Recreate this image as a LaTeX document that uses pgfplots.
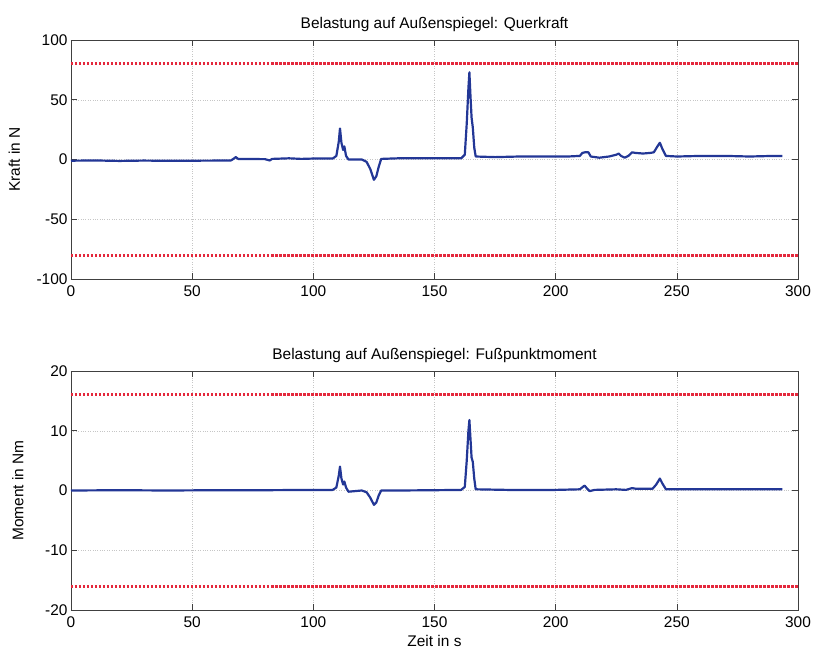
\documentclass[border=0pt]{standalone}
\usepackage{pgfplots}
\pgfplotsset{compat=1.18}
\usepackage{fontspec}
\setmainfont{Liberation Sans}

\definecolor{sigblue}{RGB}{35,55,150}
\definecolor{limred}{RGB}{228,40,60}

\pgfplotsset{
  matlab/.style={
    width=727bp, height=239bp, scale only axis,
    xmin=0, xmax=300,
    xtick={0,50,...,300},
    tick align=inside,
    major tick length=6bp,
    axis line style={black!75, line width=0.6pt},
    every tick/.style={black!75, line width=0.6pt},
    xmajorgrids, ymajorgrids,
    grid style={dotted, gray!45, line width=0.5pt},
    /pgf/number format/assume math mode=true,
    ticklabel style={font=\fontsize{15.5}{18}\selectfont},
    title style={font=\fontsize{15.5}{18}\selectfont, yshift=-1bp},
    xticklabel style={yshift=-3bp},
    scaled ticks=false,
  },
  sig/.style={sigblue, line width=2.2pt, line join=round},
  lim/.style={limred, line width=3pt, dash pattern=on 2.5bp off 1.5bp},
}

\begin{document}
\begin{tikzpicture}
\useasboundingbox (-71bp,40bp) rectangle (743bp,-613bp);

% Querkraft
\begin{axis}[matlab,
  at={(0,0)}, anchor=north west,
  ymin=-100, ymax=100, ytick={-100,-50,0,50,100},
  title={Belastung auf Außenspiegel: Querkraft},
  ylabel={Kraft in N},
  every axis y label/.style={at={(axis description cs:-0.078,0.5)}, rotate=90, anchor=center, font=\fontsize{15.5}{18}\selectfont},
]
\addplot[lim] coordinates {(0,80) (300,80)};
\addplot[lim] coordinates {(0,-80) (300,-80)};
\addplot[sig] coordinates {
(0,-1) (10,-0.8) (20,-1.2) (30,-0.9) (40,-1.1) (50,-1) (60,-0.9) (66,-0.8)
(67,0.5) (68,2) (69,0.5) (80,0.3) (82,-0.8) (83,0.5) (90,1) (95,0.5) (100,0.8)
(108,0.8) (109.5,3) (110.5,15) (111,26) (111.6,14) (112.3,8) (112.8,11) (113.5,3)
(114.5,0) (120,0) (122,-2) (123.5,-8) (125,-17) (126,-14) (127,-6) (128,0.5)
(135,1) (145,1) (155,1) (161,1) (162.5,4) (163.3,30) (164,60) (164.4,73)
(164.8,55) (165.3,35) (165.8,27) (166.4,10) (167,2.5) (175,2) (185,2.5)
(195,2.5) (205,2.5) (210,3) (211,5.5) (212,6) (213.5,6) (214.5,2.5) (218,1.5)
(222,2.5) (225,4) (226,5) (227,3) (228.5,1.5) (230,3) (231.5,6) (233,5.5)
(236,5) (239,5.5) (240.5,6) (242,11) (243,14) (244,9) (245.5,3) (250,2.5)
(260,3) (270,3) (280,2.5) (290,3) (293.5,3)
};
\end{axis}

% Fusspunktmoment
\begin{axis}[matlab,
  at={(0,-331bp)}, anchor=north west,
  ymin=-20, ymax=20, ytick={-20,-10,0,10,20},
  title={Belastung auf Außenspiegel: Fußpunktmoment},
  ylabel={Moment in Nm},
  xlabel={Zeit in s},
  every axis y label/.style={at={(axis description cs:-0.073,0.5)}, rotate=90, anchor=center, font=\fontsize{15.5}{18}\selectfont},
  every axis x label/.style={at={(axis description cs:0.5,0)}, anchor=north, yshift=-22bp, font=\fontsize{15.5}{18}\selectfont},
]
\addplot[lim] coordinates {(0,16) (300,16)};
\addplot[lim] coordinates {(0,-16) (300,-16)};
\addplot[sig] coordinates {
(0,0) (20,0.05) (40,0) (60,0.05) (80,0.05) (100,0.1) (108,0.1) (109.5,0.5)
(110.5,2.5) (111,4) (111.6,2) (112.3,1) (112.8,1.5) (113.5,0.5) (114.5,-0.2)
(120,0) (122,-0.3) (123.5,-1.2) (125,-2.4) (126,-2) (127,-0.8) (128,0) (135,0)
(150,0.05) (161,0.1) (162.5,0.6) (163.3,5) (164,10) (164.4,11.8) (164.8,9)
(165.3,5.5) (165.8,4.8) (166.4,2) (167,0.2) (180,0.1) (200,0.1) (210,0.2)
(211.5,0.7) (212,0.8) (213,0.3) (214,-0.1) (216,0.1) (225,0.2) (229,0.1)
(231.5,0.4) (233,0.3) (240,0.3) (241.5,1) (243,2) (244,1.2) (245.5,0.2)
(260,0.2) (280,0.2) (293.5,0.2)
};
\end{axis}
\end{tikzpicture}
\end{document}
